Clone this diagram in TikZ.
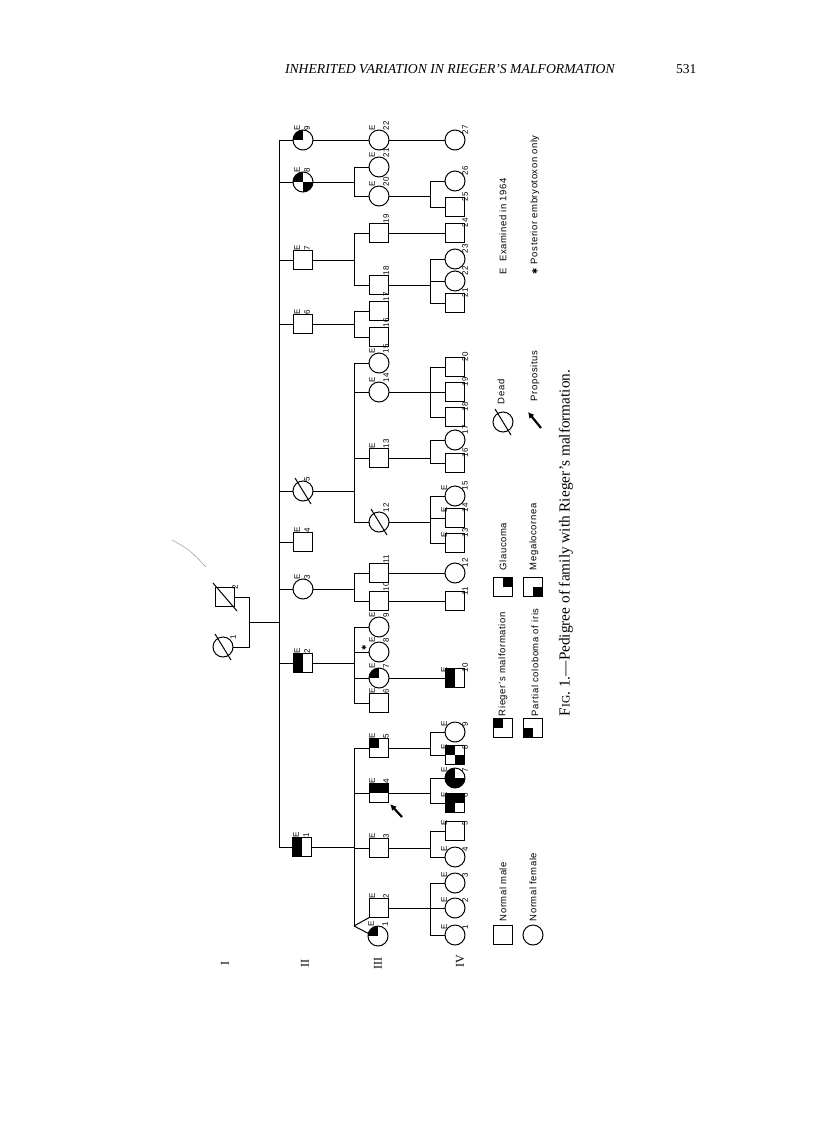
\documentclass[tikz,border=0pt]{standalone}
\usepackage{fontspec}
\setmainfont{Liberation Serif}
\newfontfamily\labf{Liberation Sans}
\newfontfamily\legf[LetterSpace=6]{Liberation Sans}
\newfontfamily\djv{DejaVu Sans}
\usetikzlibrary{arrows.meta,calc}
\newcommand\TL{\fill (path picture bounding box.center) rectangle (path picture bounding box.north west);}
\newcommand\TR{\fill (path picture bounding box.center) rectangle (path picture bounding box.north east);}
\newcommand\BL{\fill (path picture bounding box.center) rectangle (path picture bounding box.south west);}
\newcommand\BR{\fill (path picture bounding box.center) rectangle (path picture bounding box.south east);}
\newcommand\lab[3]{\node[lab] at ([shift={(\Ex pt,\Ly pt)}]#1.center) {#2};\node[lab] at ([shift={(\Nx pt,\Ly pt)}]#1.center) {#3};}
\newcommand\dead[3]{\draw[link] ([shift={(-#2pt,#3pt)}]#1.center) -- ([shift={(#2pt,-#3pt)}]#1.center);}
\newcommand\sib[5]{\draw[link] (#1.east) -- (#1.east -| #2);\draw[link] (#3.west -| #2) -- (#4.west -| #2);\foreach \c in {#5} {\draw[link] (\c.west) -- (\c.west -| #2);}}
\newcommand\one[2]{\draw[link] (#1.east) -- (#2.west);}
\begin{document}
\begin{tikzpicture}[x=1pt,y=-1pt,
  every node/.style={inner sep=0pt,outer sep=0pt},
  male/.style={draw,rectangle,minimum size=18.5pt,line width=1pt},
  fem/.style={draw,circle,minimum size=20pt,line width=1pt},
  link/.style={line width=1pt},
  lab/.style={rotate=90,anchor=west,font=\labf\fontsize{8}{8}\selectfont},
  leg/.style={rotate=90,anchor=west,font=\legf\fontsize{9.5}{9.5}\selectfont},
  gen/.style={rotate=90,font=\fontsize{12}{12}\selectfont},
  prob/.style={line width=2.2pt,-{Latex[length=6pt,width=6.5pt]}}]
\useasboundingbox (0,0) rectangle (816,1125);
\fill[white] (0,0) rectangle (816,1125);
% header
\node[anchor=base west,font=\fontsize{13.7}{13.7}\selectfont\itshape] (hdr) at (285,73) {INHERITED VARIATION IN RIEGER’S MALFORMATION};
\node[anchor=base west,font=\fontsize{13.5}{13.5}\selectfont] (pg) at (676,73) {531};
% axis coordinates
\coordinate (m1) at (249,0);
\coordinate (x2) at (279,0);
\coordinate (x3) at (354,0);
\coordinate (x4) at (430,0);
% generation I
\node[fem] (I1) at (223,647) {};
\node[male] (I2) at (225,597) {};
% generation II
\node[fem,path picture={\TL}] (II9) at (303,140) {};
\node[fem,path picture={\TL\BR}] (II8) at (303,182) {};
\node[male] (II7) at (303,260) {};
\node[male] (II6) at (303,324) {};
\node[fem] (II5) at (303,491) {};
\node[male] (II4) at (303,542) {};
\node[fem] (II3) at (303,589) {};
\node[male,path picture={\TL\BL}] (II2) at (303,663) {};
\node[male,path picture={\TL\BL}] (II1) at (302,847) {};
% generation III
\node[fem] (III22) at (379,140) {};
\node[fem] (III21) at (379,167) {};
\node[fem] (III20) at (379,196) {};
\node[male] (III19) at (379,233) {};
\node[male] (III18) at (379,285) {};
\node[male] (III17) at (379,311) {};
\node[male] (III16) at (379,337) {};
\node[fem] (III15) at (379,363) {};
\node[fem] (III14) at (379,392) {};
\node[male] (III13) at (379,458) {};
\node[fem] (III12) at (379,522) {};
\node[male] (III11) at (379,573) {};
\node[male] (III10) at (379,601) {};
\node[fem] (III9) at (379,627) {};
\node[fem] (III8) at (379,652) {};
\node[fem,path picture={\TL}] (III7) at (379,678) {};
\node[male] (III6) at (379,703) {};
\node[male,path picture={\TL}] (III5) at (379,748) {};
\node[male,path picture={\TL\TR}] (III4) at (379,793) {};
\node[male] (III3) at (379,848) {};
\node[male] (III2) at (379,908) {};
\node[fem,path picture={\TL}] (III1) at (378,936) {};
% generation IV
\node[fem] (IV27) at (455,140) {};
\node[fem] (IV26) at (455,181) {};
\node[male] (IV25) at (455,207) {};
\node[male] (IV24) at (455,233) {};
\node[fem] (IV23) at (455,259) {};
\node[fem] (IV22) at (455,281) {};
\node[male] (IV21) at (455,303) {};
\node[male] (IV20) at (455,367) {};
\node[male] (IV19) at (455,392) {};
\node[male] (IV18) at (455,417) {};
\node[fem] (IV17) at (455,440) {};
\node[male] (IV16) at (455,463) {};
\node[fem] (IV15) at (455,496) {};
\node[male] (IV14) at (455,518) {};
\node[male] (IV13) at (455,543) {};
\node[fem] (IV12) at (455,573) {};
\node[male] (IV11) at (455,601) {};
\node[male,path picture={\TL\BL}] (IV10) at (455,678) {};
\node[fem] (IV9) at (455,732) {};
\node[male,path picture={\TL\BR}] (IV8) at (455,755) {};
\node[fem,path picture={\TL\BL\BR}] (IV7) at (455,778) {};
\node[male,path picture={\TL\TR\BL}] (IV6) at (455,803) {};
\node[male] (IV5) at (455,831) {};
\node[fem] (IV4) at (455,857) {};
\node[fem] (IV3) at (455,883) {};
\node[fem] (IV2) at (455,908) {};
\node[fem] (IV1) at (455,935) {};
% dead
\dead{I1}{8}{13}
\dead{I2}{12}{14}
\dead{II5}{8}{13}
\dead{III12}{8}{13}
% connectors generation I -> II
\draw[link] (I2.east) -- (I2.east -| m1) -- (I1.east -| m1) -- (I1.east);
\coordinate (d1) at ($(I2.east -| m1)!0.5!(I1.east -| m1)$);
\draw[link] (d1) -- (d1 -| x2);
\draw[link] (II9.west -| x2) -- (II1.west -| x2);
\foreach \c in {II1,II2,II3,II4,II5,II6,II7,II8,II9} {\draw[link] (\c.west) -- (\c.west -| x2);}
% II -> III
\one{II9}{III22}
\sib{II8}{x3}{III21}{III20}{III21,III20}
\sib{II7}{x3}{III19}{III18}{III19,III18}
\sib{II6}{x3}{III17}{III16}{III17,III16}
\sib{II5}{x3}{III15}{III12}{III15,III14,III13,III12}
\sib{II3}{x3}{III11}{III10}{III11,III10}
\sib{II2}{x3}{III9}{III6}{III9,III8,III7,III6}
\coordinate (tw) at (354,926);
\draw[link] (II1.east) -- (II1.east -| x3);
\draw[link] (III5.west -| x3) -- (tw);
\foreach \c in {III5,III4,III3} {\draw[link] (\c.west) -- (\c.west -| x3);}
\draw[link] (tw) -- (III2.south west);
\draw[link] (tw) -- (III1.165);
% III -> IV
\one{III22}{IV27}
\sib{III20}{x4}{IV26}{IV25}{IV26,IV25}
\one{III19}{IV24}
\sib{III18}{x4}{IV23}{IV21}{IV23,IV22,IV21}
\sib{III14}{x4}{IV20}{IV18}{IV20,IV19,IV18}
\sib{III13}{x4}{IV17}{IV16}{IV17,IV16}
\sib{III12}{x4}{IV15}{IV13}{IV15,IV14,IV13}
\one{III11}{IV12}
\one{III10}{IV11}
\one{III7}{IV10}
\sib{III5}{x4}{IV9}{IV8}{IV9,IV8}
\sib{III4}{x4}{IV7}{IV6}{IV7,IV6}
\sib{III3}{x4}{IV5}{IV4}{IV5,IV4}
\sib{III2}{x4}{IV3}{IV1}{IV3,IV2,IV1}
% labels
\def\Ex{-9}\def\Nx{10}\def\Ly{8}
\lab{I1}{}{1}
\lab{I2}{}{2}
\def\Ex{-6}\def\Nx{4}\def\Ly{10}
\lab{II1}{E}{1}\lab{II2}{E}{2}\lab{II3}{E}{3}\lab{II4}{E}{4}\lab{II5}{}{5}
\lab{II6}{E}{6}\lab{II7}{E}{7}\lab{II8}{E}{8}\lab{II9}{E}{9}
\def\Ex{-7}\def\Nx{7}\def\Ly{10}
\lab{III1}{E}{1}\lab{III2}{E}{2}\lab{III3}{E}{3}\lab{III4}{E}{4}\lab{III5}{E}{5}
\lab{III6}{E}{6}\lab{III7}{E}{7}\lab{III8}{E}{8}\lab{III9}{E}{9}\lab{III10}{}{10}
\lab{III11}{}{11}\lab{III12}{}{12}\lab{III13}{E}{13}\lab{III14}{E}{14}\lab{III15}{E}{15}
\lab{III16}{}{16}\lab{III17}{}{17}\lab{III18}{}{18}\lab{III19}{}{19}\lab{III20}{E}{20}
\lab{III21}{E}{21}\lab{III22}{E}{22}
\def\Ex{-11}\def\Nx{10}\def\Ly{6}
\lab{IV1}{E}{1}\lab{IV2}{E}{2}\lab{IV3}{E}{3}\lab{IV4}{E}{4}\lab{IV5}{E}{5}
\lab{IV6}{E}{6}\lab{IV7}{E}{7}\lab{IV8}{E}{8}\lab{IV9}{E}{9}\lab{IV10}{E}{10}
\lab{IV11}{}{11}\lab{IV12}{}{12}\lab{IV13}{E}{13}\lab{IV14}{E}{14}\lab{IV15}{E}{15}
\lab{IV16}{}{16}\lab{IV17}{}{17}\lab{IV18}{}{18}\lab{IV19}{}{19}\lab{IV20}{}{20}
\lab{IV21}{}{21}\lab{IV22}{}{22}\lab{IV23}{}{23}\lab{IV24}{}{24}\lab{IV25}{}{25}
\lab{IV26}{}{26}\lab{IV27}{}{27}
% asterisk
\node[rotate=90,font=\djv\fontsize{6.5}{6.5}\selectfont] (ast) at (364,648) {✱};
% proband arrow
\coordinate (pa) at (402,817);
\draw[prob] (pa) -- ([shift={(2pt,-2pt)}]III4.south east);
% generation numerals
\node[gen] (gI) at (225,963) {I};
\node[gen] (gII) at (305,963) {II};
\node[gen] (gIII) at (378,963) {III};
\node[gen] (gIV) at (460,961) {IV};
% legend
\node[male] (Lm) at (503,935) {};
\node[fem] (Lf) at (533,935) {};
\node[leg] at (503,921) {Normal male};
\node[leg] at (533,921) {Normal female};
\node[male,path picture={\TL}] (Lr) at (503,728) {};
\node[male,path picture={\BL}] (Lc) at (533,728) {};
\node[leg] at (503,716) {Rieger’s malformation};
\node[leg] at (535,716) {Partial coloboma of iris};
\node[male,path picture={\TR}] (Lg) at (503,587) {};
\node[male,path picture={\BR}] (Lmg) at (533,587) {};
\node[leg] at (503,570) {Glaucoma};
\node[leg] at (534,570) {Megalocornea};
\node[fem] (Ld) at (503,422) {};
\dead{Ld}{8}{13}
\node[leg] at (501,404) {Dead};
\coordinate (la) at (541,428);
\draw[prob] (la) -- (528,412);
\node[leg] at (535,401) {Propositus};
\node[leg] at (503,274) {E\hspace{6pt}Examined in 1964};
\node[rotate=90,anchor=west,font=\djv\fontsize{7.5}{7.5}\selectfont] (la2) at (535,274) {✱};
\node[leg] at (535,264) {Posterior embryotoxon only};
% caption
\node[rotate=90,anchor=west,font=\fontsize{15.3}{15.3}\selectfont] (cap) at (566,716) {F{\fontsize{11.5}{11.5}\selectfont IG}. 1.—Pedigree of family with Rieger’s malformation.};
% scan mark
\draw[gray!70,line width=0.6pt] (172,540) .. controls (190,550) .. (206,567);
\end{tikzpicture}
\end{document}
